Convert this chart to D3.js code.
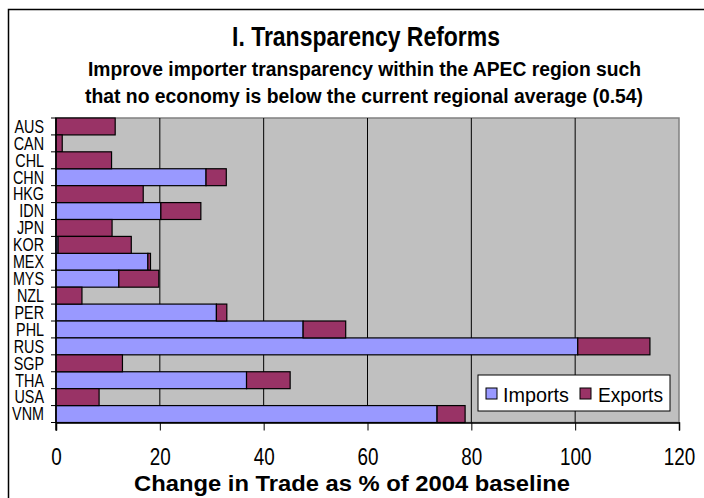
<!DOCTYPE html>
<html>
<head>
<meta charset="utf-8">
<script src="https://cdn.jsdelivr.net/npm/d3@7"></script>
<style>
  body { margin: 0; background: #fff; }
  svg text { font-family: "Liberation Sans", Arial, sans-serif; }
</style>
</head>
<body>
<svg id="chart" width="704" height="498"></svg>
<script>
// economies, top to bottom
const economies = ["AUS", "CAN", "CHL", "CHN", "HKG", "IDN", "JPN", "KOR", "MEX",
                   "MYS", "NZL", "PER", "PHL", "RUS", "SGP", "THA", "USA", "VNM"];
// change in imports, % of 2004 baseline
const imports = [0, 0, 0, 28.9, 0, 20.2, 0, 0.4, 17.7,
                 12.1, 0, 30.9, 47.6, 100.5, 0, 36.7, 0, 73.4];
// change in exports, % of 2004 baseline
const exports = [11.4, 1.2, 10.7, 3.9, 16.8, 7.7, 10.8, 14.1, 0.5,
                 7.7, 5.0, 2.0, 8.2, 13.9, 12.8, 8.4, 8.3, 5.4];
const xTicks = [0, 20, 40, 60, 80, 100, 120];
const seriesNames = ["Imports", "Exports"];

const svg = d3.select("#chart"),
    margin = { top: 118, left: 56 },
    width = 623,
    height = 304.5,
    g = svg.append("g").attr("transform", `translate(${margin.left},${margin.top})`);

const color = d3.scaleOrdinal().domain(seriesNames).range(["#9999ff", "#993366"]);
const squeeze = 0.82; // the original font is a condensed one

// text drawn at (x, y); either squeezed horizontally or fitted to a given length
function label(parent, x, y, str, size, bold, anchor, len) {
    const t = parent.append("text")
        .attr("text-anchor", anchor || "middle")
        .style("font-size", size + "px")
        .style("font-weight", bold ? "bold" : "normal")
        .text(str);
    if (len) {
        t.attr("x", x).attr("y", y)
            .attr("textLength", len).attr("lengthAdjust", "spacingAndGlyphs");
    } else {
        t.attr("transform", `translate(${x},${y}) scale(${squeeze},1)`);
    }
    return t;
}

// outer chart border
svg.append("rect")
    .attr("x", 8.5).attr("y", 9.5).attr("width", 720).attr("height", 520)
    .attr("fill", "none").attr("stroke", "#000").attr("stroke-width", 1.5);

// titles
label(svg, 366, 46, "I. Transparency Reforms", 28, true, "middle", 268);
label(svg, 364.5, 76, "Improve importer transparency within the APEC region such", 19.5, true, "middle", 553);
label(svg, 364, 103, "that no economy is below the current regional average (0.54)", 19.5, true, "middle", 558);

const x = d3.scaleLinear().domain([0, 120]).range([0, width]);
const y = d3.scaleBand().domain(economies).range([0, height]).padding(0);

// plot background
g.append("rect").attr("width", width).attr("height", height)
    .attr("fill", "#c0c0c0").attr("stroke", "#808080").attr("stroke-width", 1.5);

// vertical gridlines
g.append("g").selectAll("line")
    .data(xTicks.slice(1, -1))
    .join("line")
    .attr("x1", d => x(d)).attr("x2", d => x(d))
    .attr("y1", 0).attr("y2", height)
    .attr("stroke", "#000").attr("stroke-width", 1);

// stacked bars
const rows = economies.map((e, i) => ({ economy: e, Imports: imports[i], Exports: exports[i] }));
const series = d3.stack().keys(seriesNames)(rows);

g.selectAll(".serie")
    .data(series)
    .join("g")
    .attr("fill", d => color(d.key))
    .selectAll("rect")
    .data(d => d.filter(v => v[1] - v[0] > 0))
    .join("rect")
    .attr("x", d => x(d[0]))
    .attr("y", d => y(d.data.economy))
    .attr("width", d => x(d[1]) - x(d[0]))
    .attr("height", y.bandwidth())
    .attr("stroke", "#000").attr("stroke-width", 1.2);

// x axis
const xAxis = g.append("g").attr("transform", `translate(0,${height})`)
    .call(d3.axisBottom(x).tickValues(xTicks).tickSize(8).tickPadding(18));
xAxis.select(".domain").attr("stroke-width", 1.5);
xAxis.selectAll("text")
    .attr("transform", `scale(${squeeze},1)`)
    .style("font-size", "23px").style("font-family", '"Liberation Sans", Arial, sans-serif')
    .attr("fill", "#000");

// y axis, ticks between categories
const yAxis = g.append("g");
yAxis.append("line").attr("x1", 0).attr("x2", 0).attr("y1", 0).attr("y2", height + 8)
    .attr("stroke", "#000").attr("stroke-width", 1.5);
yAxis.selectAll(".tick")
    .data(d3.range(economies.length + 1))
    .join("line")
    .attr("x1", -5).attr("x2", 0)
    .attr("y1", i => i * y.step()).attr("y2", i => i * y.step())
    .attr("stroke", "#000");
economies.forEach(d => {
    label(yAxis, -12, y(d) + y.bandwidth() / 2 + 6.3, d, 17.5, false, "end");
});

// x axis title
label(svg, 352, 491, "Change in Trade as % of 2004 baseline", 21.5, true, "middle", 436);

// legend
const legend = svg.append("g").attr("transform", "translate(478,375)");
legend.append("rect").attr("width", 192).attr("height", 36)
    .attr("fill", "#fff").attr("stroke", "#000").attr("stroke-width", 1);
[["Imports", 8, 25, 66], ["Exports", 102, 120, 65]].forEach(([key, sx, tx, len]) => {
    legend.append("rect").attr("x", sx).attr("y", 13).attr("width", 11).attr("height", 11)
        .attr("fill", color(key)).attr("stroke", "#000");
    label(legend, tx, 27, key, 21, false, "start", len);
});
</script>
</body>
</html>
